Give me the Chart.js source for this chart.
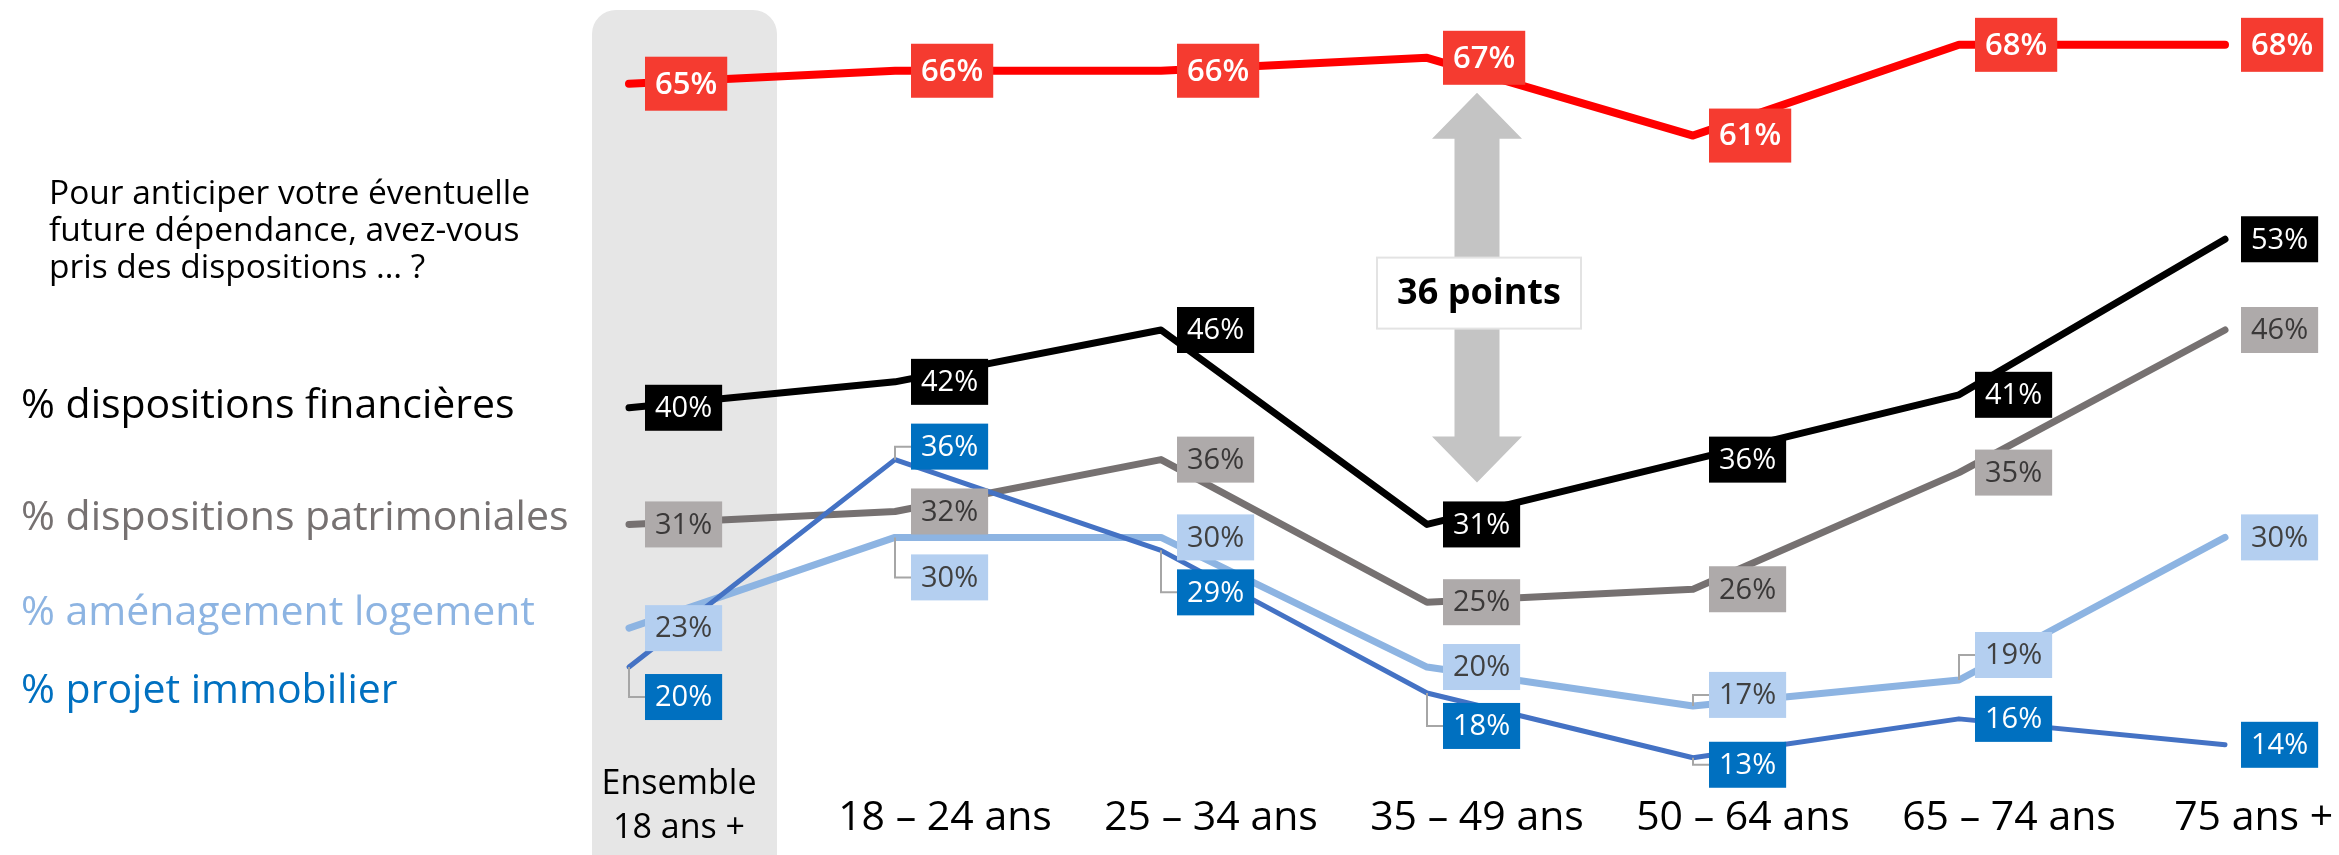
<!DOCTYPE html>
<html lang="fr">
<head>
<meta charset="utf-8">
<title>Dispositions pour la dépendance</title>
<script src="https://cdn.jsdelivr.net/npm/chart.js@4.4.1/dist/chart.umd.min.js"></script>
<style>
  html, body { margin: 0; padding: 0; background: #fff; }
  canvas { display: block; }
</style>
</head>
<body>
<canvas id="graphique" width="2339" height="855"></canvas>
<script>
// données
const categories = [["Ensemble", "18 ans +"], "18 – 24 ans", "25 – 34 ans", "35 – 49 ans", "50 – 64 ans", "65 – 74 ans", "75 ans +"];
const total = [65, 66, 66, 67, 61, 68, 68];
const financieres = [40, 42, 46, 31, 36, 41, 53];
const patrimoniales = [31, 32, 36, 25, 26, 35, 46];
const logement = [23, 30, 30, 20, 17, 19, 30];
const immobilier = [20, 36, 29, 18, 13, 16, 14];
const noms = ["", "% dispositions financières", "% dispositions patrimoniales", "% aménagement logement", "% projet immobilier"];
const question = ["Pour anticiper votre éventuelle", "future dépendance, avez-vous", "pris des dispositions … ?"];

// styles (couleurs, épaisseurs, décalage des étiquettes)
const police = "'Open Sans', 'Noto Sans', sans-serif";
const styles = [
  { trait: "#ff0000", ep: 8, fond: "#f53b30", texte: "#ffffff", gras: true, h: 54, decal: [0, 0, 0, 0, 0, 0, 0] },
  { trait: "#000000", ep: 7, fond: "#000000", texte: "#ffffff", h: 46, legende: "#000000", yLeg: 406, decal: [0, 0, 0, 0, 0, 0, 0] },
  { trait: "#767171", ep: 7, fond: "#aeaaaa", texte: "#3a3838", h: 46, legende: "#767171", yLeg: 518, decal: [0, 0, 0, 0, 0, 0, 0] },
  { trait: "#8db4e2", ep: 7, fond: "#b4cff0", texte: "#404040", h: 46, legende: "#8db4e2", yLeg: 613, decal: [0, 40, 0, 0, -11, -25, 0] },
  { trait: "#4472c4", ep: 5, fond: "#0070c0", texte: "#ffffff", h: 46, legende: "#0070c0", yLeg: 691, decal: [30, -13, 42, 33, 7, 0, 0] },
];
const ordre = [5, 4, 3, 2, 1];
const series = [total, financieres, patrimoniales, logement, immobilier];

const decor = {
  id: "decor",
  beforeDraw(chart) {
    const { ctx, scales: { x, y } } = chart;
    const cx = x.getPixelForValue(0);
    ctx.save();
    // bandeau gris derrière "Ensemble"
    ctx.fillStyle = "#e6e6e6";
    ctx.beginPath();
    ctx.roundRect(cx - 37, 10, 185, 900, 24);
    ctx.fill();

    // double flèche entre les deux courbes
    const ax = x.getPixelForValue(3) + 50;
    const haut = y.getPixelForValue(total[3]) + 35;
    const bas = y.getPixelForValue(financieres[3]) - 42;
    ctx.fillStyle = "#c4c4c4";
    ctx.beginPath();
    ctx.moveTo(ax, haut);
    ctx.lineTo(ax + 45, haut + 46);
    ctx.lineTo(ax + 22.5, haut + 46);
    ctx.lineTo(ax + 22.5, bas - 46);
    ctx.lineTo(ax + 45, bas - 46);
    ctx.lineTo(ax, bas);
    ctx.lineTo(ax - 45, bas - 46);
    ctx.lineTo(ax - 22.5, bas - 46);
    ctx.lineTo(ax - 22.5, haut + 46);
    ctx.lineTo(ax - 45, haut + 46);
    ctx.closePath();
    ctx.fill();

    const my = (haut + bas) / 2 + 5;
    ctx.fillStyle = "#ffffff";
    ctx.strokeStyle = "#e3e3e3";
    ctx.lineWidth = 2;
    ctx.fillRect(ax - 100, my - 35, 204, 71);
    ctx.strokeRect(ax - 100, my - 35, 204, 71);
    ctx.fillStyle = "#000000";
    ctx.font = "bold 36px " + police;
    ctx.textAlign = "center";
    ctx.textBaseline = "middle";
    ctx.fillText((total[3] - financieres[3]) + " points", ax + 2, my + 1);
    ctx.restore();
  },
  afterDatasetsDraw(chart) {
    const ctx = chart.ctx;
    ctx.save();
    ctx.textBaseline = "middle";
    ctx.textAlign = "left";
    chart.data.datasets.forEach((ds, i) => {
      const st = styles[i];
      const meta = chart.getDatasetMeta(i);
      meta.data.forEach((pt, j) => {
        const txt = ds.data[j] + "%";
        ctx.font = (st.gras ? "600 31px " : "29px ") + police;
        const w = ctx.measureText(txt).width + 20;
        const x0 = pt.x + 16;
        const cy = pt.y + st.decal[j];
        if (Math.abs(st.decal[j]) > 4) {
          ctx.strokeStyle = "#a6a6a6";
          ctx.lineWidth = 2;
          ctx.beginPath();
          ctx.moveTo(pt.x, pt.y);
          ctx.lineTo(pt.x, cy);
          ctx.lineTo(x0, cy);
          ctx.stroke();
        }
        ctx.fillStyle = st.fond;
        ctx.fillRect(x0, cy - st.h / 2, w, st.h);
        ctx.fillStyle = st.texte;
        ctx.fillText(txt, x0 + 10, cy + 1);
      });
    });
    ctx.restore();
  },
  afterDraw(chart) {
    const ctx = chart.ctx;
    ctx.save();
    ctx.textAlign = "left";
    ctx.textBaseline = "middle";
    ctx.fillStyle = "#000000";
    ctx.font = "33.5px " + police;
    question.forEach((l, k) => ctx.fillText(l, 49, 194 + k * 37));
    ctx.font = "41px " + police;
    chart.data.datasets.forEach((ds, i) => {
      if (!ds.label) return;
      ctx.fillStyle = styles[i].legende;
      ctx.fillText(ds.label, 21, styles[i].yLeg);
    });
    ctx.restore();
  },
};

let graphique = new Chart(document.getElementById("graphique"), {
  type: "line",
  data: {
    labels: categories,
    datasets: series.map((d, i) => ({
      label: noms[i],
      data: d,
      borderColor: styles[i].trait,
      borderWidth: styles[i].ep,
      borderCapStyle: "round",
      borderJoinStyle: "round",
      pointRadius: 0,
      tension: 0,
      clip: false,
      order: ordre[i],
    })),
  },
  options: {
    responsive: false,
    animation: false,
    layout: { padding: { left: 629, right: 114, top: 18.9, bottom: 0 } },
    plugins: { legend: { display: false }, tooltip: { enabled: false } },
    scales: {
      y: { display: false, min: 14, max: 70 },
      x: {
        offset: false,
        grid: { display: false, drawTicks: false },
        border: { display: false },
        afterFit(scale) {
          scale.height = 110.2;
          scale.paddingLeft = 0;
          scale.paddingRight = 0;
        },
        ticks: {
          autoSkip: false,
          maxRotation: 0,
          minRotation: 0,
          crossAlign: "far",
          padding: 40,
          labelOffset: 50,
          color: "#000000",
          font: (c) => c.index === 0
            ? { family: police, size: 34, lineHeight: 1.294 }
            : { family: police, size: 41, lineHeight: 1.34 },
          callback: function (v, i) {
            const lab = this.getLabelForValue(v);
            return i === categories.length - 1 ? lab + "\u00a0".repeat(4) : lab;
          },
        },
      },
    },
  },
  plugins: [decor],
});
</script>
</body>
</html>
